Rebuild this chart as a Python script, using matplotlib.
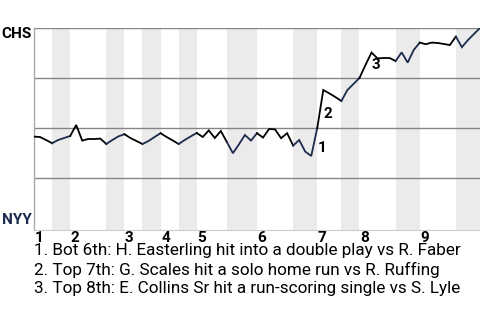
import matplotlib
matplotlib.use("Agg")
import matplotlib.pyplot as plt

# CHS win probability (%) after each plate appearance
wp = [45.7, 45.5, 44, 42.4, 44, 45, 46, 51.5, 43.7, 44.5, 44.5, 44.7, 42,
      44, 45.8, 46.9, 45, 43.5, 42, 43.5, 45.5, 47.4, 45.5, 43.8, 42, 44,
      45.8, 47.5, 45.5, 48.8, 45, 48.5, 43, 37.4, 41.8, 46.5, 43.7, 47.4,
      45.2, 49.5, 49.3, 44.9, 47.4, 41.2, 44, 38.2, 36, 50, 69, 67.3, 65.5,
      63.5, 69, 72, 75, 81.5, 87.7, 84.8, 85, 85, 83.5, 87.8, 82.7, 89,
      92.7, 91.9, 92.7, 92.5, 92, 91.5, 95.7, 90.4, 94, 97, 100]

# index where each half inning starts (top 1, bot 1, top 2, ...), last = end
half_starts = [0, 3, 6, 12, 15, 18, 21, 24, 27, 32, 37, 43, 47, 51, 54, 60, 64, 70, 74]
innings = ["1", "2", "3", "4", "5", "6", "7", "8", "9"]

# key plays: index where each play ends
key_plays = [47, 48, 56]
key_text = ["1. Bot 6th: H. Easterling hit into a double play vs R. Faber",
            "2. Top 7th: G. Scales hit a solo home run vs R. Ruffing",
            "3. Top 8th: E. Collins Sr hit a run-scoring single vs S. Lyle"]

away_color = "#000000"
home_color = "#1b2a4d"

plt.rcParams["font.family"] = ["Roboto", "DejaVu Sans"]

fig = plt.figure(figsize=(4.8, 3.2), dpi=100)
ax = fig.add_axes([34 / 480, 1 - 230 / 320, 446 / 480, 202 / 320])

n = len(wp) - 1
ax.set_xlim(0, n)
ax.set_ylim(-1, 100)

# shade bottom halves
for k in range(1, len(half_starts) - 1, 2):
    ax.axvspan(half_starts[k], half_starts[k + 1], color="#ebebeb", lw=0, zorder=0)

for gy in [25, 50, 75, 100]:
    ax.axhline(gy, color="#858585", lw=1.0, zorder=1)

# line, colored by half inning
for k in range(len(half_starts) - 1):
    a, b = half_starts[k], half_starts[k + 1]
    col = away_color if k % 2 == 0 else home_color
    ax.plot(range(a, b + 1), wp[a:b + 1], color=col, lw=1.3, zorder=3,
            solid_joinstyle="miter")

# numbered markers for the key plays, just right of the jump
for num, j in enumerate(key_plays, start=1):
    ty = wp[j - 1] + 0.55 * (wp[j] - wp[j - 1])
    ax.text(j + 0.05, ty, str(num), fontsize=11, fontweight="bold",
            ha="left", va="top", zorder=4)

for s in ["top", "right"]:
    ax.spines[s].set_visible(False)
ax.spines["left"].set_color("#aaaaaa")
ax.spines["bottom"].set_color("#cccccc")
ax.spines["left"].set_linewidth(1)
ax.spines["bottom"].set_linewidth(0.8)
ax.set_xticks([])
ax.set_yticks([])

for k, lab in enumerate(innings):
    ax.text(half_starts[2 * k] + 0.1, -1.3, lab, fontsize=11, fontweight="bold",
            ha="left", va="top")

ax.text(-0.005, 0.97, "CHS", transform=ax.transAxes, fontsize=11,
        fontweight="bold", ha="right", va="center", color=away_color)
ax.text(-0.005, 0.05, "NYY", transform=ax.transAxes, fontsize=11,
        fontweight="bold", ha="right", va="center", color=home_color)

for r, t in enumerate(key_text):
    fig.text(34 / 480, 1 - (251 + 19 * r) / 320, t, fontsize=12.3,
             ha="left", va="center")

fig.savefig("out.png", dpi=100)
